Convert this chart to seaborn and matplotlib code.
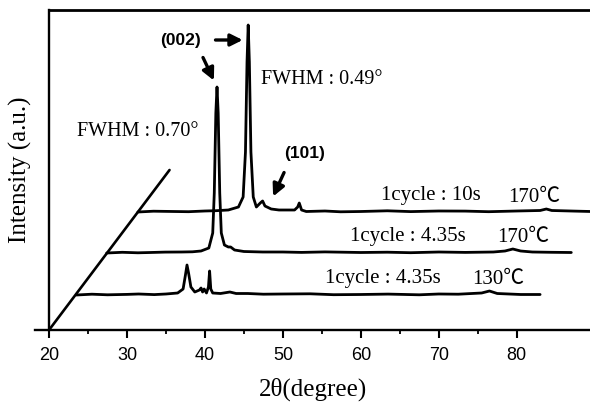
import numpy as np
import matplotlib
matplotlib.use('agg')
import matplotlib.pyplot as plt
import seaborn as sns

# XRD scans: 2theta (deg) and intensity above baseline (a.u.)
tt_130 = [20.0, 22.0, 24.0, 26.5, 28.0, 30.0, 31.5, 33.0, 33.7, 34.0, 34.2,
          34.4, 34.7, 35.2, 35.8, 36.0, 36.2, 36.4, 36.7, 36.95, 37.1, 37.25,
          37.5, 38.5, 39.7, 40.5, 42.0, 44.0, 46.5, 50.0, 53.0, 56.5, 60.0,
          64.0, 66.5, 69.0, 72.0, 73.0, 74.0, 77.0, 79.5]
int_130 = [0.0, 0.8, 0.2, 0.6, 1.0, 0.4, 1.0, 2.0, 6.0, 20.0, 30.0,
           22.0, 8.0, 3.0, 5.0, 7.0, 3.0, 6.0, 2.0, 8.0, 24.0, 6.0,
           2.0, 1.5, 3.0, 1.5, 1.5, 0.8, 1.0, 1.2, 0.3, 0.5, 0.9,
           0.2, 1.0, 0.8, 2.0, 4.0, 1.5, 0.5, 0.5]

tt_170a = [20.0, 22.0, 24.0, 25.6, 27.5, 29.6, 31.0, 32.1, 33.1, 33.6, 33.8,
           34.0, 34.15, 34.3, 34.5, 34.7, 35.1, 35.6, 35.9, 36.4, 37.6, 40.0,
           42.6, 45.0, 48.0, 52.6, 56.0, 59.0, 62.6, 66.0, 69.6, 71.1, 72.1,
           73.1, 74.6, 77.0, 79.6]
int_170a = [0.0, 0.7, 0.2, 0.5, 0.9, 1.0, 1.2, 2.0, 5.0, 20.0, 60.0,
            140.0, 166.0, 140.0, 60.0, 20.0, 8.0, 6.0, 6.0, 3.0, 1.5, 1.0,
            1.0, 0.6, 1.1, 0.5, 0.8, 0.3, 1.0, 0.6, 1.0, 2.0, 4.0,
            2.0, 1.0, 0.7, 0.5]

tt_170b = [20.0, 22.0, 24.6, 26.5, 28.6, 30.0, 31.6, 32.9, 33.5, 33.8, 34.0,
           34.15, 34.3, 34.5, 34.8, 35.2, 35.7, 36.0, 36.3, 37.1, 38.1, 40.1,
           40.5, 40.7, 41.0, 41.6, 44.0, 46.0, 48.6, 52.0, 55.0, 58.6, 62.0,
           65.0, 68.6, 71.6, 72.4, 73.1, 76.0, 78.1, 79.6]
int_170b = [0.0, 0.8, 0.5, 0.3, 1.0, 1.3, 2.0, 5.0, 15.0, 60.0, 150.0,
            187.0, 150.0, 60.0, 15.0, 5.0, 9.0, 11.0, 6.0, 3.0, 2.0, 2.0,
            5.0, 9.0, 2.0, 0.5, 1.0, 0.2, 0.5, 1.2, 0.4, 1.0, 0.9,
            0.3, 1.0, 1.5, 3.0, 1.5, 0.9, 0.5, 0.5]

cycle_labels = ["1cycle : 4.35s", "1cycle : 4.35s", "1cycle : 10s"]
temp_labels = ["130℃", "170℃", "170℃"]

x_ticks = [20, 30, 40, 50, 60, 70, 80]

# pseudo-3D stacking of the scans
shift_x = [3.5, 7.4, 11.4]
shift_y = [35, 77, 118]

sns.set_style('ticks')
plt.rcParams['font.family'] = ['Liberation Serif', 'Noto Sans CJK SC']
plt.rcParams['text.color'] = 'black'
plt.rcParams['axes.labelcolor'] = 'black'
plt.rcParams['xtick.color'] = 'black'
plt.rcParams['axes.edgecolor'] = 'black'

fig = plt.figure(figsize=(5.9, 4.05), dpi=100)
ax = fig.add_axes([35 / 590, 75 / 405, 555 / 590, 320 / 405])

scans = [(tt_130, int_130), (tt_170a, int_170a), (tt_170b, int_170b)]
for (tt, inten), dx, dy in zip(scans, shift_x, shift_y):
    sns.lineplot(x=np.array(tt) + dx, y=np.array(inten) + dy, ax=ax,
                 color='black', lw=2.0, sort=False, estimator=None)

# depth axis
slope = shift_y[-1] / shift_x[-1]
ax.plot([20, 20 + 160 / slope], [0, 160], color='black', lw=1.9)

ax.set_xlim(18.2, 89.4)
ax.set_ylim(0, 320)

for sp in ax.spines.values():
    sp.set_linewidth(1.7)
    sp.set_color('black')
ax.spines['right'].set_visible(False)
ax.spines['left'].set_position(('data', 20))
ax.spines['top'].set_visible(True)
ax.spines['top'].set_bounds(20, 89.4)
ax.spines['top'].set_linewidth(2.0)

ax.set_yticks([])
ax.set_xticks(x_ticks)
ax.set_xticks(np.array(x_ticks[:-1]) + 5, minor=True)
ax.tick_params(axis='x', which='major', direction='out', length=6, width=1.5,
               pad=6, labelsize=13, colors='black')
ax.tick_params(axis='x', which='minor', direction='out', length=3, width=1.3,
               colors='black')
for lab in ax.get_xticklabels():
    lab.set_family('Liberation Sans')

ax.set_xlabel('2θ(degree)', fontsize=18, labelpad=10)
ax.set_ylabel('Intensity (a.u.)', fontsize=18)
ax.yaxis.set_label_coords(-0.006, 0.5)

# trace labels
lab_x = [62.8, 66.0, 69.0]
tmp_x = [77.6, 80.8, 82.3]
for i in range(3):
    ax.text(lab_x[i], shift_y[i] + 17, cycle_labels[i], fontsize=15,
            ha='center', va='center')
    ax.text(tmp_x[i], shift_y[i] + 15, temp_labels[i], fontsize=15,
            ha='center', va='center')

# peak annotations
arrow = dict(arrowstyle='-|>', lw=2.4, color='black', mutation_scale=18)
ax.text(36.9, 290, '(002)', fontsize=12.5, ha='center', va='center',
        family='Liberation Sans', fontweight='bold')
ax.annotate('', xy=(45.2, 290), xytext=(41.0, 290), arrowprops=arrow)
ax.annotate('', xy=(41.3, 247), xytext=(39.6, 275), arrowprops=arrow)
ax.text(52.8, 177, '(101)', fontsize=12.5, ha='center', va='center',
        family='Liberation Sans', fontweight='bold')
ax.annotate('', xy=(48.6, 131), xytext=(50.3, 160), arrowprops=arrow)
ax.text(47.2, 250, 'FWHM : 0.49°', fontsize=14.5, ha='left', va='center')
ax.text(23.6, 199, 'FWHM : 0.70°', fontsize=14.5, ha='left', va='center')

fig.savefig('out.png', dpi=100)
